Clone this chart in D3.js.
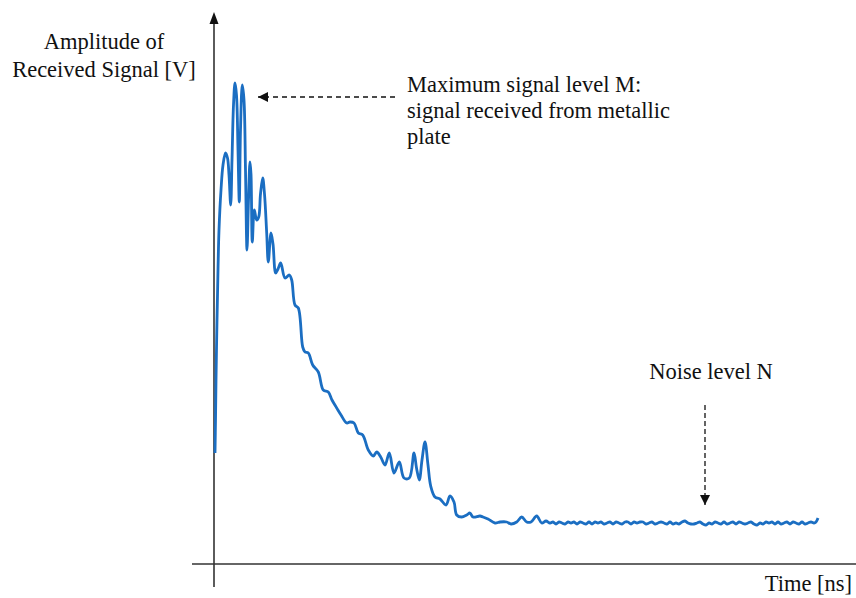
<!DOCTYPE html>
<html>
<head>
<meta charset="utf-8">
<script src="https://cdn.jsdelivr.net/npm/d3@7"></script>
<style>
  html, body { margin: 0; padding: 0; background: #fff; }
  svg { display: block; }
</style>
</head>
<body>
<svg id="chart" width="856" height="598"></svg>
<script>
// ---- data (time in ns, amplitude in mV) ----
const time = [
  1, 1.5, 2, 3, 4, 5, 7, 9, 11.5, 13.5, 15, 16.7, 18, 19.5, 21, 22.5, 24, 25.3, 26.5, 28.3,
  30, 31.5, 33, 34.5, 36, 37, 38.3, 40.3, 42.7, 44.7, 46.5, 48.7, 50.5, 52.7, 54.3, 57, 59, 61.7, 64, 66.7,
  71, 75.3, 77.7, 81, 84.3, 88.7, 91, 94.3, 98.7, 104.3, 109.3, 114.3, 118, 122.7, 127, 132.7, 136,
  140, 144.3, 148.7, 154.3, 159.3, 162.7, 166.7, 171, 175.3, 180, 185.3, 190, 195.3, 200, 202.5, 205.3, 208, 211, 214, 216.7,
  221, 226, 232, 236, 240, 242.7, 247.7, 252.7, 256, 259, 266, 269, 274, 281, 286, 292.7, 297, 302.7, 307.7, 312.7,
  317, 322.7, 327.7, 332, 336, 339, 342, 345, 348, 351, 354, 357, 360, 363, 366, 369, 372, 375, 378, 381,
  384, 387, 390, 393, 396, 399, 402, 405, 408, 411, 414, 417, 420, 423, 426, 429, 432, 435, 438, 441,
  444, 447, 450, 453, 456, 459, 462, 465, 468, 471, 474, 477, 480, 483, 486, 489, 492, 495, 498, 501,
  504, 507, 510, 513, 516, 519, 522, 525, 528, 531, 534, 537, 540, 543, 546, 549, 552, 555, 558, 561,
  564, 567, 570, 573, 576, 579, 582, 585, 588, 591, 594, 597, 600, 602, 604
];
const amplitude = [
  111, 144, 184, 244, 294, 334, 374, 399, 411, 406, 389, 359, 404, 459, 481, 469, 414, 362, 434, 479,
  464, 394, 314, 364, 402, 390, 322, 354, 344, 347, 370, 386, 370, 331, 302, 331, 320, 291, 295, 301,
  286, 289, 284, 259, 256, 217, 212, 211, 199, 192, 174, 172, 164, 156, 149, 141, 142,
  141, 131, 129, 114, 108, 112, 107, 99, 111, 91, 102, 86, 86, 111, 96, 84, 104, 122, 99, 78,
  67, 65, 59, 68, 62, 49, 47, 49, 51, 47, 48, 47, 45, 41, 42, 42, 40, 42, 47, 42,
  42, 48, 41, 43, 41, 42, 40, 42, 41, 40, 42, 41, 42, 40, 42, 41, 40, 42, 40, 42,
  41, 42, 40, 41, 42, 40, 42, 41, 40, 42, 42, 40, 42, 41, 42, 42, 40, 41, 42, 40,
  41, 42, 41, 40, 42, 40, 41, 40, 42, 43, 41, 40, 40, 41, 42, 40, 39, 41, 40, 42,
  41, 40, 42, 40, 41, 42, 40, 42, 41, 40, 41, 42, 40, 39, 41, 40, 42, 41, 42, 40,
  42, 40, 41, 42, 40, 42, 41, 40, 42, 40, 41, 42, 41, 42, 46
];
const axisLabelY = ["Amplitude of", "Received Signal [V]"];
const axisLabelX = "Time [ns]";
const annotationMax = ["Maximum signal level M:", "signal received from metallic", "plate"];
const annotationNoise = "Noise level N";
const fontNames = ["Liberation Serif"];

const svg = d3.select("#chart");
const x = d3.scaleLinear().domain([0, 640]).range([214, 854]);
const y = d3.scaleLinear().domain([0, 500]).range([564, 64]);

const defs = svg.append("defs");
defs.append("marker").attr("id", "arr").attr("viewBox", "0 0 10 10")
  .attr("refX", 10).attr("refY", 5).attr("markerWidth", 10).attr("markerHeight", 10)
  .attr("markerUnits", "userSpaceOnUse").attr("orient", "auto")
  .append("path").attr("d", "M0,0 L10,5 L0,10 z").attr("fill", "#111");

// axes
svg.append("line").attr("x1", 192).attr("x2", 856).attr("y1", y(0)).attr("y2", y(0))
  .attr("stroke", "#333").attr("stroke-width", 1.6);
svg.append("line").attr("x1", x(0)).attr("x2", x(0)).attr("y1", 587).attr("y2", 16)
  .attr("stroke", "#333").attr("stroke-width", 1.6);
svg.append("path").attr("d", `M${x(0)},12 L${x(0)-4.5},24 L${x(0)+4.5},24 Z`).attr("fill", "#111");

// signal line
const pts = time.map((t, i) => [t, amplitude[i]]);
svg.append("path").datum(pts)
  .attr("d", d3.line().x(d => x(d[0])).y(d => y(d[1])).curve(d3.curveCatmullRom.alpha(0.5)))
  .attr("fill", "none").attr("stroke", "#1b6ec2").attr("stroke-width", 2.8)
  .attr("stroke-linejoin", "round");

function addText(px, py, anchor) {
  const f = fontNames[0];
  return svg.append("text").attr("x", px).attr("y", py)
    .attr("font-size", 22.5).style("font-family", `"${f}"`)
    .attr("fill", "#111").attr("text-anchor", anchor);
}

// axis labels
const yl = addText(104, 49, "middle");
axisLabelY.forEach((s, i) => yl.append("tspan").attr("x", 104).attr("y", 49 + i * 28).text(s));
addText(852, 591, "end").text(axisLabelX);

// annotation M
svg.append("line").attr("x1", 395).attr("x2", 258).attr("y1", 97).attr("y2", 97)
  .attr("stroke", "#111").attr("stroke-width", 1.3).attr("stroke-dasharray", "5,4")
  .attr("marker-end", "url(#arr)");
const mt = addText(407, 92, "start");
annotationMax.forEach((s, i) => mt.append("tspan").attr("x", 407).attr("y", 92 + i * 26).text(s));

// annotation N
addText(711, 379, "middle").text(annotationNoise);
svg.append("line").attr("x1", 705).attr("x2", 705).attr("y1", 405).attr("y2", 505)
  .attr("stroke", "#111").attr("stroke-width", 1.3).attr("stroke-dasharray", "5,3")
  .attr("marker-end", "url(#arr)");
</script>
</body>
</html>
